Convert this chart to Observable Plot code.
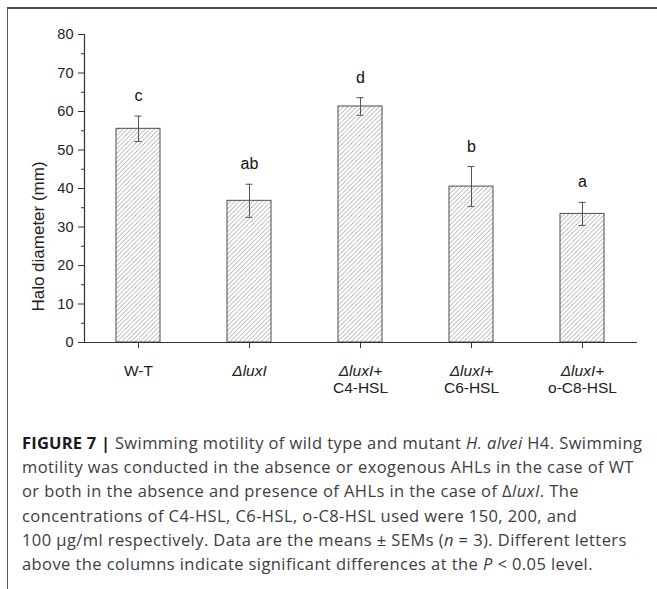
<!DOCTYPE html>
<html><head><meta charset="utf-8">
<script src="https://cdn.jsdelivr.net/npm/d3@7"></script>
<script src="https://cdn.jsdelivr.net/npm/@observablehq/plot@0.6"></script>
<style>
html,body{margin:0;padding:0;background:#fff;}
body{width:657px;height:589px;position:relative;overflow:hidden;}
#frame{position:absolute;left:7px;top:7px;right:-2px;bottom:-2px;border-top:2px solid #4d4d4d;border-left:1px solid #5a5a5a;}
#chart{position:absolute;left:0;top:0;}
#caption{position:absolute;left:22px;top:431px;font-family:"Open Sans";font-size:16.5px;letter-spacing:0.42px;line-height:24.2px;color:#3d3d3d;white-space:nowrap;}
#caption b{color:#1a1a1a;font-weight:700;letter-spacing:0.2px;}
</style></head><body>
<div id="frame"></div>
<div id="chart"></div>
<div id="caption">
<div><b>FIGURE 7 |</b> Swimming motility of wild type and mutant <i>H. alvei</i> H4. Swimming</div>
<div>motility was conducted in the absence or exogenous AHLs in the case of WT</div>
<div>or both in the absence and presence of AHLs in the case of Δ<i>luxI</i>. The</div>
<div>concentrations of C4-HSL, C6-HSL, o-C8-HSL used were 150, 200, and</div>
<div>100 μg/ml respectively. Data are the means ± SEMs (<i>n</i> = 3). Different letters</div>
<div>above the columns indicate significant differences at the <i>P</i> &lt; 0.05 level.</div>
</div>
<script>
const categories = ["W-T", "ΔluxI", "ΔluxI+C4-HSL", "ΔluxI+C6-HSL", "ΔluxI+o-C8-HSL"];
const tickLabels = [["W-T"], ["ΔluxI"], ["ΔluxI+", "C4-HSL"], ["ΔluxI+", "C6-HSL"], ["ΔluxI+", "o-C8-HSL"]];
const means = [55.5, 36.8, 61.3, 40.5, 33.4];
const sems = [3.3, 4.3, 2.3, 5.2, 3.0];
const letters = ["c", "ab", "d", "b", "a"];
const yTicks = [0, 10, 20, 30, 40, 50, 60, 70, 80];
const yMinorTicks = [5, 15, 25, 35, 45, 55, 65, 75];
const yTitle = "Halo diameter (mm)";

const data = categories.map((c, i) => ({cat: c, mean: means[i], sem: sems[i], letter: letters[i]}));
const lo = d => d.mean - d.sem;
const hi = d => d.mean + d.sem;

const svg = Plot.plot({
  width: 657,
  height: 400,
  marginLeft: 84,
  marginRight: 20,
  marginTop: 34,
  marginBottom: 58,
  style: {fontFamily: "'Liberation Sans', Arial, sans-serif", fontSize: "14px", color: "#222", background: "transparent"},
  x: {type: "band", domain: categories, paddingInner: 0.6, paddingOuter: 0.29, label: null},
  y: {domain: [0, 80], label: null},
  marks: [
    Plot.barY(data, {x: "cat", y: "mean", fill: "url(#hatch)", stroke: "#4d4d4d", strokeWidth: 1}),
    Plot.ruleX(data, {x: "cat", y1: lo, y2: hi, stroke: "#555", strokeWidth: 1}),
    Plot.tickY(data, {x: "cat", y: lo, insetLeft: 18.5, insetRight: 18.5, stroke: "#555"}),
    Plot.tickY(data, {x: "cat", y: hi, insetLeft: 18.5, insetRight: 18.5, stroke: "#555"}),
    Plot.text(data, {x: "cat", y: hi, dy: -20, text: "letter", fontSize: 16, fill: "#111"}),
    Plot.ruleY([0], {stroke: "#333", strokeWidth: 1.2}),
    Plot.frame({anchor: "left", stroke: "#333", strokeWidth: 1.2}),
    Plot.axisY({ticks: yTicks, tickSize: 6, tickPadding: 5, fontSize: 14.5, label: null, stroke: "#333", fill: "#222"}),
    Plot.axisY({ticks: yMinorTicks, tickSize: 3, tickFormat: () => "", label: null, stroke: "#333"}),
    Plot.axisX({tickFormat: d => tickLabels[categories.indexOf(d)].join("\n"), tickSize: 6, tickPadding: 15, fontSize: 15.5, lineHeight: 1.1, label: null, stroke: "#333", fill: "#222"}),
    Plot.text([yTitle], {frameAnchor: "left", textAnchor: "middle", dx: -46, dy: 48, rotate: -90, fontSize: 17, fill: "#222"})
  ]
});

// hatch pattern
const s = d3.select(svg);
const pat = s.insert("defs", ":first-child").append("pattern")
  .attr("id", "hatch").attr("patternUnits", "userSpaceOnUse")
  .attr("width", 4.5).attr("height", 4.5);
pat.append("rect").attr("width", 4.5).attr("height", 4.5).attr("fill", "#fff");
pat.append("path").attr("d", "M-1,1 l2,-2 M0,4.5 l4.5,-4.5 M3.5,5.5 l2,-2")
  .attr("stroke", "#8f8f8f").attr("stroke-width", 0.75);
s.selectAll('g[aria-label="bar"] rect').attr("fill", "url(#hatch)");

// italic ΔluxI lines in x tick labels
s.selectAll('g[aria-label="x-axis tick label"] text').each(function() {
  const tspans = this.querySelectorAll("tspan");
  const nodes = tspans.length ? Array.from(tspans) : [this];
  nodes.forEach(n => { if (n.textContent.startsWith("Δ")) n.setAttribute("font-style", "italic"); });
});

document.getElementById("chart").appendChild(svg);
</script>
</body></html>
